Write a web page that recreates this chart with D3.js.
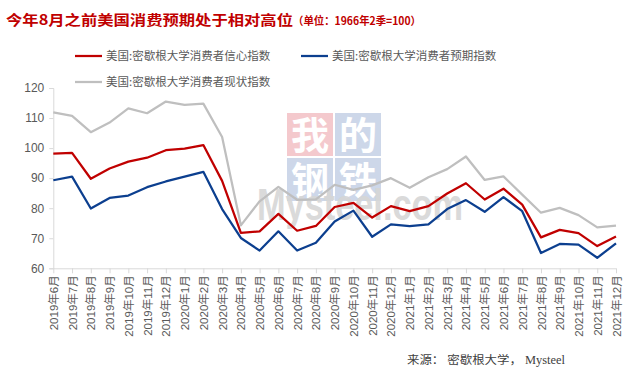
<!DOCTYPE html>
<html>
<head>
<meta charset="utf-8">
<script src="https://cdnjs.cloudflare.com/ajax/libs/d3/7.8.5/d3.min.js"></script>
<style>
  body { margin: 0; background: #fff; }
  text { font-family: "Liberation Sans", "Noto Sans CJK SC", sans-serif; }
</style>
</head>
<body>
<div id="chart"></div>
<script>
// months on the x axis
var months = ["2019年6月","2019年7月","2019年8月","2019年9月","2019年10月","2019年11月","2019年12月",
  "2020年1月","2020年2月","2020年3月","2020年4月","2020年5月","2020年6月","2020年7月","2020年8月",
  "2020年9月","2020年10月","2020年11月","2020年12月","2021年1月","2021年2月","2021年3月","2021年4月",
  "2021年5月","2021年6月","2021年7月","2021年8月","2021年9月","2021年10月","2021年11月","2021年12月"];

// 信心指数 / 预期指数 / 现状指数
var sentiment = [98.2,98.4,89.8,93.2,95.5,96.8,99.3,99.8,101.0,89.1,71.8,72.3,78.1,72.5,74.1,
  80.4,81.8,76.9,80.7,79.0,80.7,84.9,88.3,82.9,86.5,81.2,70.3,72.8,71.7,67.4,70.6];
var expectations = [89.3,90.5,79.9,83.4,84.2,87.0,88.9,90.5,92.1,79.7,70.1,65.9,72.3,65.9,68.5,
  75.6,79.2,70.5,74.6,74.0,74.6,79.7,82.7,78.8,83.7,79.0,65.1,68.1,67.9,63.5,68.3];
var current = [111.9,110.7,105.3,108.5,113.2,111.6,115.5,114.4,114.8,103.7,74.3,82.3,87.1,82.8,82.9,
  87.8,86.1,87.6,90.0,86.8,90.3,93.0,97.2,89.4,90.6,84.5,78.5,80.1,77.7,73.6,74.2];

var seriesNames = ["美国:密歇根大学消费者信心指数","美国:密歇根大学消费者预期指数","美国:密歇根大学消费者现状指数"];
var seriesColors = ["#c00000","#0c3f8f","#bfbfbf"];
var yTicks = [60,70,80,90,100,110,120];

var width = 634, height = 377;

var svg = d3.select("#chart").append("svg")
  .attr("width", width)
  .attr("height", height);

var x = d3.scalePoint().domain(months).range([53.3, 616]);
var y = d3.scaleLinear().domain([60, 120]).range([268.3, 88]);

/* title */
svg.append("text")
  .attr("x", 6).attr("y", 25)
  .attr("fill", "#c00000")
  .attr("textLength", 287).attr("lengthAdjust", "spacingAndGlyphs")
  .style("font-family", "'Noto Sans CJK SC', sans-serif")
  .style("font-weight", "bold").style("font-size", "14px")
  .text("今年8月之前美国消费预期处于相对高位");
svg.append("text")
  .attr("x", 293).attr("y", 25)
  .attr("fill", "#c00000")
  .attr("textLength", 128).attr("lengthAdjust", "spacingAndGlyphs")
  .style("font-family", "'Noto Sans CJK SC', sans-serif")
  .style("font-weight", "bold").style("font-size", "11px")
  .text("（单位：1966年2季=100）");

/* watermark */
var wm = svg.append("g").attr("class", "watermark");
var boxes = [
  {ch: "我", x: 287, y: 113, c: "#f4c9cd"},
  {ch: "的", x: 335, y: 113, c: "#cdd7e9"},
  {ch: "钢", x: 287, y: 158, c: "#cdd7e9"},
  {ch: "铁", x: 335, y: 158, c: "#cdd7e9"}
];
boxes.forEach(function(b) {
  wm.append("rect").attr("x", b.x).attr("y", b.y).attr("width", 46).attr("height", 43).attr("fill", b.c);
  wm.append("text").attr("x", b.x + 23).attr("y", b.y + 36)
    .attr("text-anchor", "middle").attr("fill", "#fff")
    .style("font-family", "'Noto Sans CJK SC', sans-serif")
    .style("font-weight", "bold").style("font-size", "38px").text(b.ch);
});
wm.append("text").attr("x", 257).attr("y", 220)
  .attr("fill", "#d6d6d6").attr("opacity", 0.9)
  .attr("textLength", 206).attr("lengthAdjust", "spacingAndGlyphs")
  .style("font-size", "44px").style("font-weight", "bold")
  .text("Mysteel.com");

/* axes */
var xAxis = d3.axisBottom(x).tickSize(5).tickFormat("");
var gx = svg.append("g").attr("transform", "translate(0," + y(60) + ")").call(xAxis);
gx.select(".domain").attr("stroke", "#d9d9d9").attr("d", "M53.3,0.5H616");
gx.selectAll(".tick line").attr("stroke", "#d9d9d9");

gx.selectAll(".tick").append("text")
  .attr("transform", "rotate(-90)")
  .attr("x", -7).attr("y", 0).attr("dy", "0.35em")
  .attr("text-anchor", "end")
  .attr("fill", "#595959")
  .style("font-size", "11.5px")
  .text(function(d) { return d; });

var yAxis = d3.axisLeft(y).tickValues(yTicks).tickSize(4).tickPadding(5);
var gy = svg.append("g").attr("transform", "translate(53.3,0)").call(yAxis);
gy.select(".domain").attr("stroke", "#d9d9d9");
gy.selectAll(".tick line").attr("stroke", "#d9d9d9");
gy.selectAll(".tick text").attr("fill", "#595959").style("font-size", "12px")
  .style("font-family", "'Liberation Sans', sans-serif");

/* lines */
var data = [sentiment, expectations, current];
var line = d3.line()
  .x(function(d, i) { return x(months[i]); })
  .y(function(d) { return y(d); });

// draw the grey one first so it sits underneath
[2, 1, 0].forEach(function(k) {
  svg.append("path")
    .datum(data[k])
    .attr("fill", "none")
    .attr("stroke", seriesColors[k])
    .attr("stroke-width", 2.25)
    .attr("stroke-linejoin", "round")
    .attr("d", line);
});

/* legend */
var legendPos = [[75, 56], [301, 56], [75, 82]];
seriesNames.forEach(function(name, i) {
  var g = svg.append("g").attr("transform", "translate(" + legendPos[i][0] + "," + legendPos[i][1] + ")");
  g.append("line").attr("x1", 0).attr("x2", 27).attr("y1", 0).attr("y2", 0)
    .attr("stroke", seriesColors[i]).attr("stroke-width", 2.25);
  g.append("text").attr("x", 31).attr("y", 4)
    .attr("fill", "#595959")
    .style("font-family", "'Noto Sans CJK SC', sans-serif")
    .style("font-size", "11.5px")
    .text(name);
});

/* source */
svg.append("text")
  .attr("x", 407).attr("y", 364)
  .attr("fill", "#404040")
  .attr("textLength", 158).attr("lengthAdjust", "spacingAndGlyphs")
  .style("font-family", "'Liberation Serif', 'Noto Sans CJK SC', serif")
  .style("font-size", "11.5px")
  .text("来源： 密歇根大学， Mysteel");
</script>
</body>
</html>
